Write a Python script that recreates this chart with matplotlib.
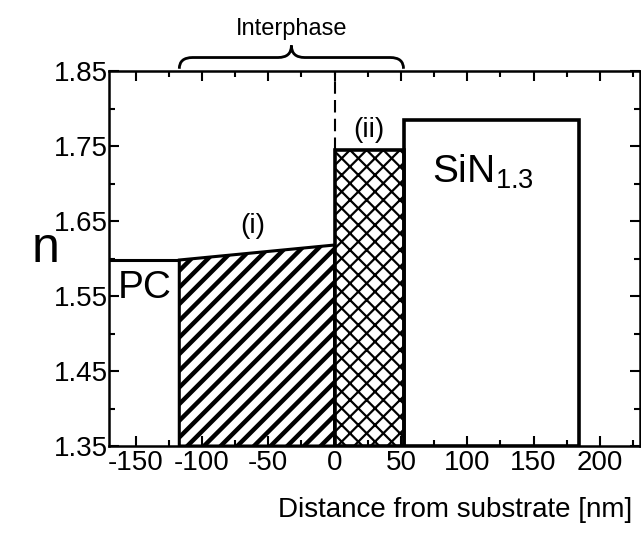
import matplotlib
matplotlib.use("Agg")
import matplotlib.pyplot as plt
from matplotlib.patches import Rectangle, Polygon, PathPatch
from matplotlib.path import Path
from matplotlib.ticker import MultipleLocator

plt.rcParams['font.family'] = ['Liberation Sans', 'DejaVu Sans']
plt.rcParams['axes.unicode_minus'] = False
plt.rcParams['mathtext.fontset'] = 'custom'
plt.rcParams['mathtext.rm'] = 'Liberation Sans'
plt.rcParams['mathtext.it'] = 'Liberation Sans'

# layer boundaries (nm) and refractive index n
pc_x = [-170, -117]
pc_n = 1.598
i_x = [-117, 0]
i_n = [1.598, 1.618]
ii_x = [0, 52]
ii_n = 1.745
sin_x = [52, 184]
sin_n = 1.785
interphase_x = [-117, 52]

xticks = [-150, -100, -50, 0, 50, 100, 150, 200]
yticks = [1.35, 1.45, 1.55, 1.65, 1.75, 1.85]

fig = plt.figure(figsize=(6.41, 5.38), dpi=100)
ax = fig.add_axes([0.170, 0.171, 0.828, 0.697])

ymin = 1.35
ax.set_xlim(-170, 230)
ax.set_ylim(1.35, 1.85)

# PC substrate: just the top edge
ax.plot([pc_x[0], pc_x[1]], [pc_n, pc_n], color='black', lw=2.2, solid_capstyle='butt')

# (i) graded layer, diagonal hatch
plt.rcParams['hatch.linewidth'] = 3.2
poly_i = Polygon([(i_x[0], ymin), (i_x[0], i_n[0]), (i_x[1], i_n[1]), (i_x[1], ymin)],
                 closed=True, facecolor='white', edgecolor='black', lw=2.2, hatch='//')
ax.add_patch(poly_i)

# (ii) dense layer, cross hatch
plt.rcParams['hatch.linewidth'] = 1.6
rect_ii = Rectangle((ii_x[0], ymin), ii_x[1] - ii_x[0], ii_n - ymin,
                    facecolor='white', edgecolor='black', lw=2.6, hatch='xx')
ax.add_patch(rect_ii)

# SiN film
rect_sin = Rectangle((sin_x[0], ymin), sin_x[1] - sin_x[0], sin_n - ymin,
                     facecolor='none', edgecolor='black', lw=2.6)
ax.add_patch(rect_sin)

# dashed line at substrate surface
ax.plot([0, 0], [ii_n, 1.85], color='black', lw=1.5, ls=(0, (6, 3)))

# curly brace for the interphase
x0, x1 = interphase_x
xm = (x0 + x1) / 2
ye, yh, yp = 1.853, 1.868, 1.884
r = 10
verts = [(x0, ye), (x0, yh), (x0 + r, yh),
         (xm - r, yh), (xm, yh), (xm, yp),
         (xm, yh), (xm + r, yh),
         (x1 - r, yh), (x1, yh), (x1, ye)]
codes = [Path.MOVETO, Path.CURVE3, Path.CURVE3,
         Path.LINETO, Path.CURVE3, Path.CURVE3,
         Path.CURVE3, Path.CURVE3,
         Path.LINETO, Path.CURVE3, Path.CURVE3]
ax.add_patch(PathPatch(Path(verts, codes), facecolor='none', edgecolor='black',
                       lw=2.0, clip_on=False))
ax.text(xm, 1.906, 'Interphase', ha='center', va='center', fontsize=17, clip_on=False)

# labels
ax.text(-62, 1.643, '(i)', ha='center', va='center', fontsize=20)
ax.text(26, 1.771, '(ii)', ha='center', va='center', fontsize=20)
ax.text(112, 1.715, 'SiN$_{1.3}$', ha='center', va='center', fontsize=28)
ax.text(-143, 1.561, 'PC', ha='center', va='center', fontsize=28)

ax.set_xticks(xticks)
ax.set_yticks(yticks)
ax.set_yticklabels(['%.2f' % v for v in yticks])
ax.xaxis.set_minor_locator(MultipleLocator(25))
ax.yaxis.set_minor_locator(MultipleLocator(0.05))
ax.tick_params(which='both', direction='in', top=True, right=True, width=1.5,
               labelsize=20, pad=3)
ax.tick_params(which='major', length=7)
ax.tick_params(which='minor', length=4)
ax.tick_params(axis='y', pad=1)
for s in ax.spines.values():
    s.set_linewidth(1.8)

ax.set_xlabel('Distance from substrate [nm]', fontsize=20, ha='right')
ax.xaxis.set_label_coords(0.985, -0.135)
ax.set_ylabel('n', fontsize=36, rotation=0, va='center', ha='center')
ax.yaxis.set_label_coords(-0.12, 0.525)

fig.savefig('out.png', dpi=100)
